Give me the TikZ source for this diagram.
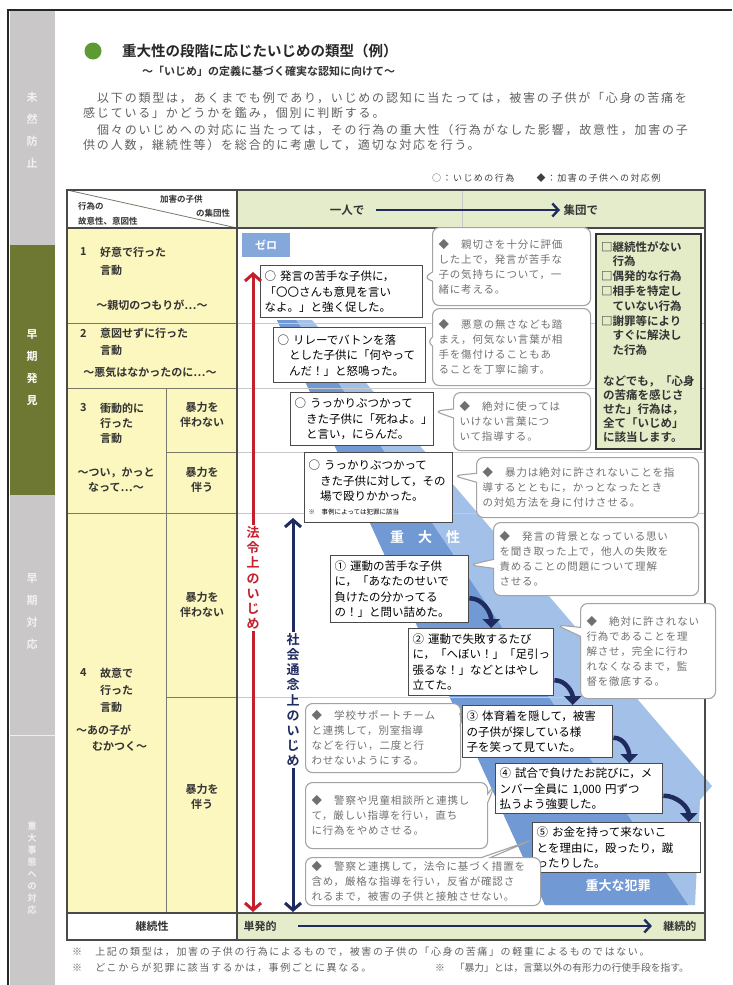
\documentclass[tikz,border=0pt]{standalone}
\usepackage{fontspec}
\setmainfont{Noto Sans CJK JP}[BoldFont={Noto Sans CJK JP Bold}]
\newfontfamily\ifnt{Noto Sans CJK JP}[LetterSpace=15]
\newfontfamily\cfnt{Noto Sans CJK JP}[LetterSpace=8]
\newfontfamily\nfnt{Noto Sans CJK JP}[LetterSpace=16]
\usetikzlibrary{arrows.meta,shapes.callouts}
\definecolor{sidegray}{HTML}{C9C7C8}
\definecolor{sidegreen}{HTML}{6E7832}
\definecolor{cellyellow}{HTML}{FBF7BE}
\definecolor{hdrgreen}{HTML}{E4ECCB}
\definecolor{boxgray}{HTML}{4A4A4A}
\definecolor{callgray}{HTML}{A3A3A3}
\definecolor{calltext}{HTML}{707070}
\definecolor{ribbonlight}{HTML}{A3C1E8}
\definecolor{ribbondark}{HTML}{7199D4}
\definecolor{redc}{HTML}{C4202C}
\definecolor{navyc}{HTML}{1F2B5F}
\definecolor{titlegreen}{HTML}{5E9A33}
\definecolor{zeroblue}{HTML}{84A8DA}
\definecolor{gbfill}{HTML}{E3EBC7}
\definecolor{lbltext}{HTML}{333333}
\definecolor{introtext}{HTML}{606060}
\definecolor{gridl}{HTML}{C9C9C9}
\definecolor{gridd}{HTML}{7A7A6A}
\tikzset{
  actbox/.style={draw=boxgray, line width=1.4pt, fill=white, anchor=north west, align=left,
    inner xsep=4pt, inner ysep=2pt, font=\fontsize{11.5}{15.5}\selectfont, text=black},
  callbox/.style={rectangle callout, rounded corners=7pt, draw=callgray, line width=1.1pt, fill=white,
    anchor=north west, align=left, inner xsep=6pt, inner ysep=2pt, callout pointer width=9pt,
    font=\cfnt\fontsize{10.5}{15}\selectfont, text=calltext},
  rowlbl/.style={font=\fontsize{11}{15}\selectfont\bfseries, text=lbltext, inner sep=0pt, anchor=west},
  rowlblc/.style={font=\fontsize{11}{15}\selectfont\bfseries, text=lbltext, inner sep=0pt, align=center},
  sidetxt/.style={font=\fontsize{11}{22}\selectfont\bfseries, text=white!90!gray, align=center, inner sep=0pt},
  intro/.style={font=\ifnt\fontsize{12}{14}\selectfont, text=introtext, inner sep=0pt, anchor=west},
  notes/.style={font=\nfnt\fontsize{10}{12}\selectfont, text=introtext, inner sep=0pt, anchor=west},
  vlbl/.style={font=\fontsize{13}{15.2}\selectfont\bfseries, align=center, inner sep=1pt},
  bigarr/.style={line width=3pt, -{Straight Barb[length=7pt,width=16pt]}},
  harr/.style={navyc, line width=2.4pt, -{Straight Barb[length=6pt,width=13pt]}},
  curvarr/.style={navyc, line width=4.5pt, -{Triangle[length=9pt,width=17pt]}},
  framel/.style={draw=boxgray, line width=1.5pt},
  gridline/.style={draw=gridd, line width=0.8pt},
  lightgrid/.style={draw=gridl, line width=0.8pt},
}
\begin{document}
\begin{tikzpicture}[x=1pt,y=-1pt]
\useasboundingbox (0,0) rectangle (732,985);
\fill[white] (0,0) rectangle (732,985);

% ---------- page frame and sidebar ----------
\fill[sidegray] (10,11) rectangle (55,985);
\fill[sidegreen] (10,245) rectangle (55,495);
\draw[white!70!sidegray, line width=1pt] (10,735) -- (55,735);
\draw[line width=1.6pt, black!85] (8,985) -- (8,10) -- (732,10);
\node[sidetxt] (sb1) at (32,130) {未\\然\\防\\止};
\node[sidetxt, text=white] (sb2) at (32,368) {早\\期\\発\\見};
\node[sidetxt] (sb3) at (32,612) {早\\期\\対\\応};
\node[sidetxt, font=\fontsize{9}{12}\selectfont\bfseries] (sb4) at (32,868) {重\\大\\事\\態\\へ\\の\\対\\応};

% ---------- title ----------
\fill[titlegreen] (93,51) circle (8.5);
\node[anchor=west, inner sep=0pt, font=\fontsize{14.5}{16}\selectfont\bfseries, text=black!85] (title) at (122,51)
  {重大性の段階に応じたいじめの類型（例）};
\node[anchor=west, inner sep=0pt, font=\fontsize{11}{13}\selectfont\bfseries, text=black!80] (subtitle) at (142,71)
  {～「いじめ」の定義に基づく確実な認知に向けて～};

% ---------- intro ----------
\node[intro] (i1) at (97,98) {以下の類型は，あくまでも例であり，いじめの認知に当たっては，被害の子供が「心身の苦痛を};
\node[intro] (i2) at (83,113) {感じている」かどうかを鑑み，個別に判断する。};
\node[intro] (i3) at (97,130) {個々のいじめへの対応に当たっては，その行為の重大性（行為がなした影響，故意性，加害の子};
\node[intro] (i4) at (83,145) {供の人数，継続性等）を総合的に考慮して，適切な対応を行う。};
\node[notes, font=\nfnt\fontsize{9}{11}\selectfont, text=black!75] (legend) at (432,178) {○：いじめの行為　　◆：加害の子供への対応例};

% ---------- table backgrounds ----------
\fill[cellyellow] (67,228) rectangle (237,913);
\fill[hdrgreen] (237,190) rectangle (705,228);
\fill[hdrgreen] (237,913) rectangle (705,940);

% ---------- ribbon ----------
\fill[ribbonlight] (277,320) -- (312,320) -- (712,786) -- (700,800) -- (695,905) -- (545,905) -- cycle;
\fill[ribbondark] (277,320) -- (296,320) -- (688,905) -- (545,905) -- cycle;

% ---------- grid ----------
\draw[lightgrid] (237,323) -- (705,323);
\draw[lightgrid] (237,388) -- (705,388);
\draw[lightgrid] (237,452) -- (705,452);
\draw[lightgrid] (237,513) -- (705,513);
\draw[lightgrid] (237,697) -- (705,697);
\draw[lightgrid] (462,190) -- (462,228);
\draw[gridline] (67,323) -- (237,323);
\draw[gridline] (67,388) -- (237,388);
\draw[gridline] (67,513) -- (237,513);
\draw[gridline] (166,388) -- (166,913);
\draw[gridline] (166,452) -- (237,452);
\draw[gridline] (166,697) -- (237,697);
\draw[gridline] (67,190) -- (237,228);
\draw[framel] (67,228) -- (705,228);
\draw[framel] (67,913) -- (705,913);
\draw[framel] (237,190) -- (237,940);
\draw[framel] (67,190) rectangle (705,940);

% ---------- header ----------
\node[inner sep=0pt, font=\fontsize{8.5}{10}\selectfont\bfseries, text=lbltext, anchor=west] (h1) at (78,206) {行為の};
\node[inner sep=0pt, font=\fontsize{8.5}{10}\selectfont\bfseries, text=lbltext, anchor=west] (h2) at (78,221) {故意性、意図性};
\node[inner sep=0pt, font=\fontsize{8.5}{10}\selectfont\bfseries, text=lbltext, anchor=west] (h3) at (160,199) {加害の子供};
\node[inner sep=0pt, font=\fontsize{8.5}{10}\selectfont\bfseries, text=lbltext, anchor=west] (h4) at (196,213) {の集団性};
\node[font=\fontsize{11.5}{13}\selectfont\bfseries, text=lbltext] (alone) at (347,210) {一人で};
\node[font=\fontsize{11.5}{13}\selectfont\bfseries, text=lbltext, anchor=west] (group) at (560,210) {集団で};
\draw[harr] (alone.east) ++(8pt,0) coordinate (ha) -- (group.west |- ha);

% ---------- footer ----------
\node[font=\fontsize{11}{13}\selectfont\bfseries, text=lbltext] (cont) at (152,926) {継続性};
\node[font=\fontsize{11}{13}\selectfont\bfseries, text=lbltext, anchor=west] (single) at (240,926) {単発的};
\node[font=\fontsize{11}{13}\selectfont\bfseries, text=lbltext, anchor=east] (contin) at (700,926) {継続的};
\draw[harr] ([xshift=18pt]single.east) -- ([xshift=-8pt]contin.west);

% ---------- left column labels ----------
\node[rowlbl] (r1n) at (80,252) {1};
\node[rowlbl] (r1a) at (100,252) {好意で行った};
\node[rowlbl] (r1b) at (100,270) {言動};
\node[rowlblc] (r1c) at (152,305) {～親切のつもりが…～};
\node[rowlbl] (r2n) at (80,333) {2};
\node[rowlbl] (r2a) at (100,333) {意図せずに行った};
\node[rowlbl] (r2b) at (100,350) {言動};
\node[rowlblc] (r2c) at (150,372) {～悪気はなかったのに…～};
\node[rowlbl] (r3n) at (80,408) {3};
\node[rowlbl] (r3a) at (100,408) {衝動的に};
\node[rowlbl] (r3b) at (100,423) {行った};
\node[rowlbl] (r3c) at (100,438) {言動};
\node[rowlblc] (r3d) at (116,480) {～つい，かっと\\なって…～};
\node[rowlblc] (r3e) at (202,415) {暴力を\\伴わない};
\node[rowlblc] (r3f) at (202,480) {暴力を\\伴う};
\node[rowlbl] (r4n) at (80,673) {4};
\node[rowlbl] (r4a) at (100,673) {故意で};
\node[rowlbl] (r4b) at (100,690) {行った};
\node[rowlbl] (r4c) at (100,707) {言動};
\node[rowlbl] (r4d) at (76,730) {～あの子が};
\node[rowlbl] (r4e) at (92,746) {むかつく～};
\node[rowlblc] (r4f) at (202,605) {暴力を\\伴わない};
\node[rowlblc] (r4g) at (202,797) {暴力を\\伴う};

% ---------- zero label ----------
\node[fill=zeroblue, text=white, font=\fontsize{11}{13}\selectfont\bfseries, minimum width=48pt, minimum height=24pt,
  anchor=north west, inner sep=0pt] (zero) at (242,233) {ゼロ};

% ---------- action boxes ----------
\node[actbox, text width=154pt, minimum height=52pt] (b0) at (260,265)
  {○ 発言の苦手な子供に，\\「〇〇さんも意見を言い\\なよ。」と強く促した。};
\node[actbox, text width=144pt, minimum height=55pt] (b1) at (273,327)
  {○ リレーでバトンを落\\　とした子供に「何やって\\　んだ！」と怒鳴った。};
\node[actbox, text width=135pt, minimum height=53pt] (b2) at (290,392)
  {○ うっかりぶつかって\\　きた子供に「死ねよ。」\\　と言い，にらんだ。};
\node[actbox, text width=140pt, minimum height=70pt] (b3) at (304,452)
  {○ うっかりぶつかって\\　きた子供に対して，その\\　場で殴りかかった。\\[-2pt]{\fontsize{6.5}{8}\selectfont ※　事例によっては犯罪に該当}};
\node[font=\fontsize{14}{16}\selectfont\bfseries, text=white] (jdt) at (425,537) {重　大　性};
\node[actbox, text width=130pt, minimum height=67pt] (b4) at (330,555)
  {① 運動の苦手な子供\\に，「あなたのせいで\\負けたの分かってる\\の！」と問い詰めた。};
\node[actbox, text width=137pt, minimum height=67pt] (b5) at (408,628)
  {② 運動で失敗するたび\\に，「へぼい！」「足引っ\\張るな！」などとはやし\\立てた。};
\node[actbox, text width=142pt, minimum height=52pt] (b6) at (462,705)
  {③ 体育着を隠して，被害\\の子供が探している様\\子を笑って見ていた。};
\node[actbox, text width=159pt, minimum height=50pt] (b7) at (495,763)
  {④ 試合で負けたお詫びに，メ\\ンバー全員に 1,000 円ずつ\\払うよう強要した。};
\node[actbox, text width=160pt, minimum height=50pt] (b8) at (532,822)
  {⑤ お金を持って来ないこ\\とを理由に，殴ったり，蹴\\ったりした。};
\node[font=\fontsize{13}{15}\selectfont\bfseries, text=white] (crime) at (618,886) {重大な犯罪};

% ---------- curved arrows ----------
\draw[curvarr] ([yshift=-9pt]b4.east) to[out=0, in=90] ([xshift=10pt]b5.north);
\draw[curvarr] ([yshift=-18pt]b5.east) to[out=0, in=90] ([xshift=35pt]b6.north);
\draw[curvarr] ([yshift=-6pt]b6.east) to[out=0, in=90] ([xshift=50pt]b7.north);
\draw[curvarr] ([yshift=-7pt]b7.east) to[out=0, in=90] ([xshift=72pt]b8.north);

% ---------- response callouts ----------
\node[callbox, text width=146pt, minimum height=78pt, callout absolute pointer={([yshift=14pt]b0.east)}] (c0) at (432,227)
  {◆　親切さを十分に評価\\した上で，発言が苦手な\\子の気持ちについて，一\\緒に考える。};
\node[callbox, text width=146pt, minimum height=77pt, callout absolute pointer={([yshift=14pt]b1.east)}] (c1) at (432,308)
  {◆　悪意の無さなども踏\\まえ，何気ない言葉が相\\手を傷付けることもあ\\ることを丁寧に諭す。};
\node[callbox, text width=125pt, minimum height=58pt, callout absolute pointer={([yshift=8pt]b2.east)}] (c2) at (453,392)
  {◆　絶対に使っては\\いけない言葉につ\\いて指導する。};
\node[callbox, text width=210pt, minimum height=60pt, callout absolute pointer={([yshift=12pt]b3.east)}] (c3) at (476,457)
  {◆　暴力は絶対に許されないことを指\\導するとともに，かっとなったとき\\の対処方法を身に付けさせる。};
\node[callbox, text width=193pt, minimum height=73pt, callout absolute pointer={([yshift=-10pt]b4.north east)}] (c4) at (493,522)
  {◆　発言の背景となっている思い\\を聞き取った上で，他人の失敗を\\責めることの問題について理解\\させる。};
\node[callbox, text width=123pt, minimum height=95pt, callout absolute pointer={([xshift=2pt,yshift=3pt]b5.north east)}] (c5) at (580,603)
  {◆　絶対に許されない\\行為であることを理\\解させ，完全に行わ\\れなくなるまで，監\\督を徹底する。};
\node[callbox, text width=143pt, minimum height=69pt, callout absolute pointer={([yshift=12pt]b6.west)}] (c6) at (305,703)
  {◆　学校サポートチーム\\と連携して，別室指導\\などを行い，二度と行\\わせないようにする。};
\node[callbox, text width=170pt, minimum height=66pt, callout absolute pointer={([yshift=4pt]b7.west)}] (c7) at (305,782)
  {◆　警察や児童相談所と連携し\\て，厳しい指導を行い，直ち\\に行為をやめさせる。};
\node[callbox, text width=223pt, minimum height=48pt, callout absolute pointer={([yshift=-18pt]b8.north west)}] (c8) at (305,857)
  {◆　警察と連携して，法令に基づく措置を\\含め，厳格な指導を行い，反省が確認さ\\れるまで，被害の子供と接触させない。};

% ---------- green note box ----------
\node[draw=black!80, line width=1.8pt, fill=gbfill, minimum width=105pt, minimum height=215pt, anchor=north west] (gbox) at (595,233) {};
\node[anchor=north west, inner sep=0pt, align=left, font=\fontsize{11.5}{14.8}\selectfont\bfseries, text=lbltext] (gtxt1)
  at ([xshift=6pt,yshift=-8pt]gbox.north west)
  {□継続性がない\\　行為\\□偶発的な行為\\□相手を特定し\\　ていない行為\\□謝罪等により\\　すぐに解決し\\　た行為};
\node[anchor=south west, inner sep=0pt, align=left, font=\fontsize{11.5}{14}\selectfont\bfseries, text=lbltext] (gtxt2)
  at ([xshift=8pt,yshift=7pt]gbox.south west)
  {などでも，「心身\\の苦痛を感じさ\\せた」行為は，\\全て「いじめ」\\に該当します。};

% ---------- vertical arrows ----------
\node[vlbl, text=redc] (lawl) at (253,578) {法\\令\\上\\の\\い\\じ\\め};
\node[vlbl, text=navyc] (socl) at (293,700) {社\\会\\通\\念\\上\\の\\い\\じ\\め};
\coordinate (redtop) at (253,272);
\coordinate (redbot) at (253,912);
\coordinate (navtop) at (293,518);
\coordinate (navbot) at (293,912);
\draw[bigarr, redc] (lawl.north) -- (redtop);
\draw[bigarr, redc] (lawl.south) -- (redbot);
\draw[bigarr, navyc] (socl.north) -- (navtop);
\draw[bigarr, navyc] (socl.south) -- (navbot);

% ---------- notes ----------
\node[notes] (n1) at (72,952) {※　上記の類型は，加害の子供の行為によるもので，被害の子供の「心身の苦痛」の軽重によるものではない。};
\node[notes] (n2) at (72,968) {※　どこからが犯罪に該当するかは，事例ごとに異なる。};
\node[notes, font=\fontsize{9.8}{12}\selectfont] (n3) at (435,968) {※　「暴力」とは，言葉以外の有形力の行使手段を指す。};
\end{tikzpicture}
\end{document}
